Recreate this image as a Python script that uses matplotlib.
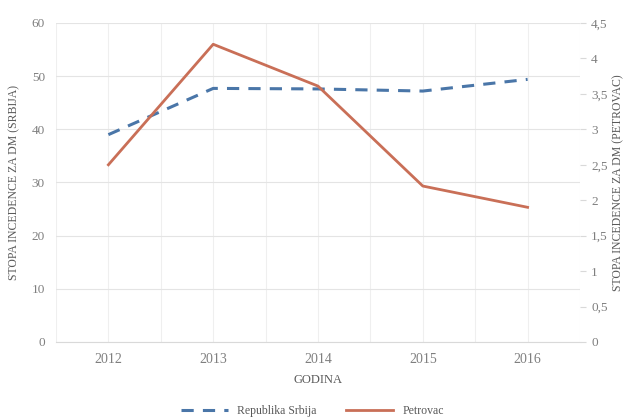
import numpy as np
import matplotlib.pyplot as plt
from matplotlib.lines import Line2D

years = ['2012', '2013', '2014', '2015', '2016']
srbija = [39.0, 47.7, 47.6, 47.2, 49.4]
petrovac = [2.5, 4.2, 3.61, 2.2, 1.9]

plt.rcParams['font.family'] = ['Liberation Serif', 'DejaVu Serif']
grey = '#7f7f7f'
blue = '#4a76a8'
orange = '#c96f57'

fig = plt.figure(figsize=(6.25, 4.19), dpi=100)
ax = fig.add_axes([56/625, 1-342/419, 524/625, 319/419])
ax2 = ax.twinx()

x = np.arange(len(years))
ax.plot(x, srbija, color=blue, lw=2.2, ls=(0, (4, 3)), zorder=3)
ax2.plot(x, petrovac, color=orange, lw=2.0, zorder=3)

ax.set_xlim(-0.5, 4.5)
ax.set_ylim(0, 60)
ax.set_yticks(range(0, 61, 10))
ax2.set_ylim(0, 4.5)
ax2.set_yticks(np.arange(0, 4.51, 0.5))
ax2.set_yticklabels(['0', '0,5', '1', '1,5', '2', '2,5', '3', '3,5', '4', '4,5'])

ax.set_xticks(x)
ax.set_xticklabels(years)
ax.set_xticks(np.arange(-0.5, 4.6, 1), minor=True)

ax.grid(True, axis='y', color='#e4e4e4', lw=0.8)
ax.grid(True, axis='x', which='both', color='#efefef', lw=0.8)
ax.set_axisbelow(True)

for a in (ax, ax2):
    for s in a.spines.values():
        s.set_visible(False)
ax.spines['bottom'].set_visible(True)
ax.spines['bottom'].set_color('#d9d9d9')

ax.tick_params(axis='x', which='both', length=0, colors=grey, labelsize=10, pad=8)
ax.tick_params(axis='y', length=0, colors=grey, labelsize=9.5, pad=8)
ax2.tick_params(axis='y', length=4, color='#d9d9d9', colors=grey, labelsize=9.5, pad=4)

ax.set_xlabel('GODINA', color='#595959', fontsize=9, labelpad=6)
ax.set_ylabel('STOPA INCEDENCE ZA DM (SRBIJA)', color='#595959', fontsize=8.5)
ax.yaxis.set_label_coords(-0.068, 0.5)
ax2.set_ylabel('STOPA INCEDENCE ZA DM (PETROVAC)', color='#595959', fontsize=8.5,
               rotation=90)
ax2.yaxis.set_label_coords(1.062, 0.5)

handles = [Line2D([], [], color=blue, lw=2.2, ls=(0, (4, 3))),
           Line2D([], [], color=orange, lw=2.0)]
fig.legend(handles, ['Republika Srbija', 'Petrovac'], loc='center',
           bbox_to_anchor=(0.5, 1 - 411/419), ncol=2, frameon=False,
           fontsize=8.5, labelcolor='#595959', handlelength=4, columnspacing=2.5)

fig.savefig('out.png', dpi=100)
